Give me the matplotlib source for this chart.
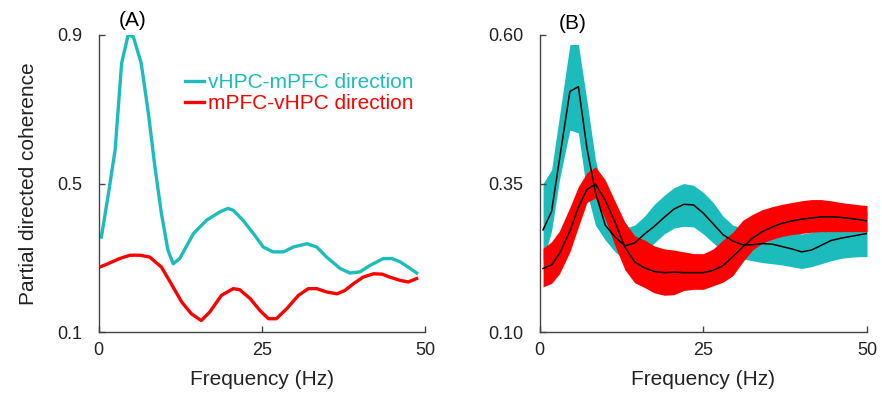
import matplotlib
matplotlib.use('Agg')
import matplotlib.pyplot as plt
import numpy as np

plt.rcParams['font.family'] = ['Liberation Sans', 'DejaVu Sans']

teal = '#1cbcbc'
red = '#ff0000'
axcol = '#444444'

# panel A: partial directed coherence, both directions
fa_hpc = [0.4, 1.4, 2.5, 3.5, 4.5, 5.3, 6.5, 7.6, 8.6, 9.6, 10.6, 11.4, 12.4, 14.5, 16.5,
          18.6, 19.8, 20.6, 22.1, 23.7, 25.2, 26.7, 28.3, 29.8, 31.9, 33.4, 34.9, 37.0,
          38.5, 40.0, 41.6, 43.6, 44.9, 46.2, 47.4, 48.7]
pdc_hpc = [0.356, 0.464, 0.59, 0.824, 0.9, 0.895, 0.824, 0.689, 0.545, 0.419, 0.32, 0.284,
           0.298, 0.365, 0.401, 0.424, 0.433, 0.428, 0.401, 0.365, 0.329, 0.316, 0.316,
           0.329, 0.338, 0.329, 0.302, 0.271, 0.259, 0.262, 0.28, 0.298, 0.298, 0.289,
           0.275, 0.259]

fa_pfc = [0.15, 1.4, 3.2, 4.8, 6.3, 7.8, 9.6, 11.1, 12.7, 14.2, 15.7, 17.0, 18.8, 20.6,
          21.6, 23.2, 24.7, 26.0, 27.2, 28.8, 30.6, 32.1, 33.4, 34.9, 36.5, 37.7, 39.0,
          40.5, 42.1, 43.4, 44.6, 46.2, 47.4, 48.7]
pdc_pfc = [0.275, 0.284, 0.298, 0.307, 0.307, 0.302, 0.275, 0.23, 0.181, 0.149, 0.131,
           0.154, 0.199, 0.217, 0.214, 0.19, 0.158, 0.136, 0.136, 0.163, 0.199, 0.217,
           0.217, 0.208, 0.203, 0.212, 0.23, 0.248, 0.257, 0.256, 0.248, 0.239, 0.235,
           0.244]

# panel B: mean with shaded band
fb = [0.5, 1.8, 3.0, 4.6, 5.9, 7.2, 8.5, 10, 11.5, 13, 14.5, 16, 17.5, 19, 20.5, 22,
      23.5, 25, 26.5, 28, 29.5, 31, 32.5, 34, 35.5, 37, 38.5, 40, 41.5, 43, 44.5, 46,
      47.5, 49, 50]
hpc_mean = [0.272, 0.303, 0.39, 0.505, 0.513, 0.41, 0.335, 0.28, 0.26, 0.245, 0.25, 0.265,
            0.278, 0.293, 0.307, 0.315, 0.314, 0.3, 0.282, 0.264, 0.253, 0.247, 0.247,
            0.249, 0.248, 0.244, 0.24, 0.235, 0.238, 0.246, 0.254, 0.258, 0.261, 0.264,
            0.266]
hpc_hi = [0.35, 0.373, 0.463, 0.584, 0.584, 0.49, 0.39, 0.32, 0.29, 0.275, 0.28, 0.295,
          0.315, 0.33, 0.343, 0.35, 0.347, 0.335, 0.318, 0.295, 0.28, 0.275, 0.277, 0.279,
          0.278, 0.274, 0.27, 0.265, 0.268, 0.276, 0.284, 0.29, 0.295, 0.3, 0.303]
hpc_lo = [0.22, 0.27, 0.356, 0.44, 0.435, 0.335, 0.28, 0.255, 0.235, 0.222, 0.222, 0.235,
          0.25, 0.265, 0.275, 0.278, 0.277, 0.265, 0.25, 0.236, 0.228, 0.223, 0.22, 0.217,
          0.215, 0.213, 0.21, 0.207, 0.21, 0.215, 0.22, 0.224, 0.226, 0.227, 0.227]

pfc_mean = [0.207, 0.213, 0.232, 0.27, 0.31, 0.34, 0.349, 0.322, 0.285, 0.243, 0.218,
            0.208, 0.202, 0.2, 0.201, 0.2, 0.2, 0.2, 0.204, 0.212, 0.227, 0.243, 0.258,
            0.269, 0.277, 0.283, 0.287, 0.29, 0.292, 0.294, 0.294, 0.293, 0.291, 0.289,
            0.287]
pfc_hi = [0.241, 0.252, 0.27, 0.31, 0.345, 0.368, 0.378, 0.356, 0.32, 0.285, 0.262, 0.255,
          0.245, 0.24, 0.238, 0.235, 0.232, 0.232, 0.24, 0.255, 0.268, 0.288, 0.298, 0.306,
          0.311, 0.315, 0.318, 0.321, 0.323, 0.323, 0.321, 0.318, 0.316, 0.314, 0.313]
pfc_lo = [0.176, 0.182, 0.198, 0.235, 0.277, 0.318, 0.326, 0.29, 0.245, 0.205, 0.183,
          0.175, 0.166, 0.162, 0.163, 0.17, 0.172, 0.172, 0.178, 0.184, 0.195, 0.218, 0.238,
          0.25, 0.256, 0.261, 0.264, 0.266, 0.268, 0.269, 0.269, 0.269, 0.269, 0.269,
          0.269]

fig = plt.figure(figsize=(8.82, 3.93), dpi=100)
axA = fig.add_axes([0.112, 0.155, 0.370, 0.756])
axB = fig.add_axes([0.612, 0.155, 0.371, 0.756])


def style(ax):
    for s in ['top', 'right']:
        ax.spines[s].set_visible(False)
    for s in ['left', 'bottom']:
        ax.spines[s].set_color(axcol)
        ax.spines[s].set_linewidth(1.0)
    ax.tick_params(direction='in', length=4, width=1, color=axcol,
                   labelsize=13, labelcolor='#222222')
    ax.tick_params(axis='y', pad=12)
    ax.tick_params(axis='x', pad=7)
    ax.set_xlim(0, 50)
    ax.set_xticks([0, 25, 50])
    ax.set_xlabel('Frequency (Hz)', fontsize=15, color='#222222', labelpad=8)


axA.plot(fa_hpc, pdc_hpc, color=teal, lw=2.4, label='vHPC-mPFC direction')
axA.plot(fa_pfc, pdc_pfc, color=red, lw=2.4, label='mPFC-vHPC direction')
style(axA)
axA.set_ylim(0.1, 0.9)
axA.set_yticks([0.1, 0.5, 0.9])
axA.set_yticklabels(['0.1', '0.5', '0.9'])
axA.set_ylabel('Partial directed coherence', fontsize=15, color='#222222', labelpad=14)
leg = axA.legend(loc='upper left', bbox_to_anchor=(0.24, 0.9), frameon=False,
                 fontsize=15, handlelength=0.9, handletextpad=0.2,
                 labelspacing=0.1, borderaxespad=0)
for txt, ln in zip(leg.get_texts(), leg.get_lines()):
    txt.set_color(ln.get_color())
axA.text(0.105, 1.05, '(A)', transform=axA.transAxes, fontsize=15, ha='center', va='center')

axB.fill_between(fb, hpc_lo, hpc_hi, color=teal, lw=0)
axB.plot(fb, hpc_mean, color='black', lw=1.1)
axB.fill_between(fb, pfc_lo, pfc_hi, color=red, lw=0)
axB.plot(fb, pfc_mean, color='black', lw=1.1)
style(axB)
axB.set_ylim(0.1, 0.6)
axB.set_yticks([0.1, 0.35, 0.6])
axB.set_yticklabels(['0.10', '0.35', '0.60'])
axB.text(0.1, 1.04, '(B)', transform=axB.transAxes, fontsize=15, ha='center', va='center')

fig.savefig('out.png', dpi=100)
